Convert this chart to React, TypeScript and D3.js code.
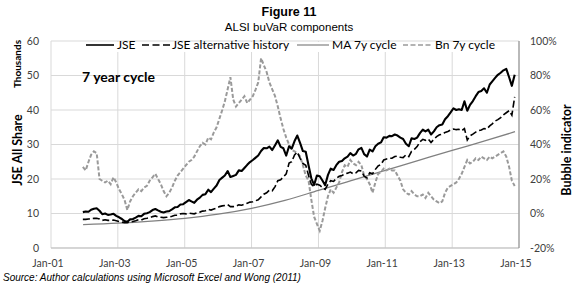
import React from "react";
import * as d3 from "d3";

// ---------- DATA ----------
const titleText = "Figure 11";
const subtitleText = "ALSI buVaR components";
const sourceText = "Source: Author calculations using Microsoft Excel and Wong (2011)";
const seriesNames = ["JSE", "JSE alternative history", "MA 7y cycle", "Bn 7y cycle"];

// monthly observations, Dec-2001 .. Nov-2014
const firstMonth = [2001, 11]; // year, month index (Dec)

// JSE All Share (thousands)
const jse = [
  10.4,
  10.6, 10.5, 11.1, 11.4, 11.5, 10.8, 9.8, 10.0, 9.6, 9.7, 9.9, 9.3,
  8.9, 8.4, 7.8, 7.6, 8.3, 8.4, 8.8, 9.3, 9.2, 9.9, 10.1, 10.4,
  11.0, 11.3, 10.9, 10.5, 10.3, 10.6, 10.7, 11.2, 11.8, 11.9, 12.6, 12.7,
  13.3, 13.9, 13.5, 13.1, 14.0, 14.6, 15.4, 15.6, 16.9, 16.2, 17.2, 18.1,
  19.7, 20.4, 21.0, 22.3, 20.6, 20.9, 21.2, 22.5, 22.3, 23.2, 24.1, 24.9,
  25.5, 26.2, 26.8, 28.1, 29.0, 28.9, 29.4, 28.4, 29.8, 31.2, 29.3, 28.9,
  26.8, 29.5, 28.8, 31.0, 32.6, 30.4, 28.1, 27.9, 23.9, 20.2, 18.3, 21.0,
  20.8, 19.5, 18.2, 21.2, 23.0, 22.6, 24.0, 25.0, 25.2, 26.0, 26.5, 27.5,
  26.8, 27.3, 28.6, 29.0, 27.2, 26.5, 28.5, 28.0, 29.5, 30.2, 30.6, 32.1,
  32.0, 32.5, 32.4, 32.9, 32.6, 32.0, 31.6, 30.2, 29.5, 31.8, 31.6, 32.0,
  33.3, 34.3, 33.8, 34.3, 32.9, 33.8, 35.0, 35.6, 35.8, 37.3, 38.2, 39.3,
  40.5, 40.0, 40.2, 40.0, 42.5, 39.8, 41.5, 42.6, 44.0, 45.2, 45.5, 46.3,
  45.0, 47.4, 48.3, 49.3, 50.2, 50.8, 51.5, 51.9, 49.5, 47.0, 50.2,
];

// JSE alternative history (thousands)
const jseAlt = [
  8.3,
  8.3, 8.4, 8.5, 8.6, 8.6, 8.4, 8.0, 8.2, 8.0, 8.0, 8.1, 7.9,
  7.7, 7.5, 7.3, 7.3, 7.6, 7.7, 7.9, 8.2, 8.1, 8.5, 8.6, 8.8,
  9.1, 9.3, 9.0, 8.9, 8.8, 8.9, 9.0, 9.2, 9.5, 9.5, 9.9, 10.0,
  9.9, 10.1, 10.0, 9.9, 10.2, 10.4, 10.7, 10.8, 11.2, 11.0, 11.3, 11.6,
  12.0, 12.2, 12.3, 12.6, 12.0, 12.0, 12.1, 12.5, 12.4, 12.7, 13.0, 13.3,
  13.4, 13.7, 14.0, 14.8, 15.6, 16.0, 16.8, 16.6, 17.8, 19.5, 19.8, 20.6,
  21.5, 24.6, 25.0, 27.0, 27.8, 26.0, 24.5, 24.0, 21.0, 18.5, 17.8, 18.5,
  18.2, 17.5, 17.0, 18.5, 19.5, 19.3, 20.2, 20.8, 21.0, 21.5, 21.7, 22.0,
  21.5, 21.8, 22.5, 22.3, 20.8, 20.3, 21.8, 21.5, 22.8, 23.8, 24.2, 25.5,
  25.8, 26.0, 26.0, 26.5, 26.6, 26.3, 26.2, 27.0, 26.5, 28.0, 28.6, 29.4,
  30.8, 31.5, 31.2, 31.6, 30.6, 31.5, 32.3, 32.8, 33.0, 33.5, 33.8, 34.2,
  34.5, 34.3, 34.4, 34.0, 34.6, 31.3, 32.5, 33.0, 33.6, 34.0, 34.2, 34.6,
  34.5, 35.4, 36.0, 36.8, 37.2, 37.8, 38.6, 39.2, 39.8, 38.5, 43.8,
];

// Bn 7y cycle (bubble indicator, %)
const bn = [
  27,
  25, 30, 34, 36, 35, 20, 19, 18, 19, 17, 21, 18,
  14, 11, 8, 2, 7, 10, 12, 14, 13, 15, 16, 19,
  21, 23, 20, 17, 13, 10, 12, 15, 19, 22, 24, 26,
  28, 30, 31, 33, 36, 39, 41, 40, 44, 43, 47, 50,
  55, 60, 65, 72, 79, 66, 62, 64, 66, 68, 64, 66,
  68, 72, 76, 90, 86, 82, 76, 72, 68, 62, 55, 49,
  44, 40, 37, 36, 35, 33, 28, 22, 19, 8, -2, -6,
  -10, -4, 3, 10, 14, 12, 15, 18, 24, 28, 27, 31,
  29, 28, 30, 28, 22, 20, 17, 12, 18, 23, 24, 26,
  25, 26, 25, 25, 22, 19, 14, 12, 11, 13, 11, 10,
  10, 11, 9, 12, 10, 8, 7, 6, 7, 12, 15, 16,
  17, 18, 20, 23, 27, 31, 29, 30, 32, 31, 33, 32,
  31, 33, 32, 33, 34, 35, 36, 33, 27, 19, 16,
];

// MA 7y cycle (thousands), smooth trend
const maYears = [2001.96, 2003, 2004, 2005, 2006, 2007, 2008, 2009, 2010, 2011, 2012, 2013, 2014, 2014.88];
const maValues = [6.8, 7.2, 7.8, 8.6, 9.8, 11.5, 13.8, 16.7, 19.6, 22.5, 25.4, 28.3, 31.1, 33.7];

const xTickYears = [2001, 2003, 2005, 2007, 2009, 2011, 2013, 2015];
const xTickLabels = ["Jan-01", "Jan-03", "Jan-05", "Jan-07", "Jan-09", "Jan-11", "Jan-13", "Jan-15"];
const leftTicks = [0, 10, 20, 30, 40, 50, 60];
const rightTicks = [-20, 0, 20, 40, 60, 80, 100];

// ---------- CHART ----------
const W = 580;
const H = 284;
const PL = 51, PR = 519, PT = 41, PB = 248;

const calibri = "Lato, 'Open Sans', sans-serif";
const arial = "'Liberation Sans', Arial, sans-serif";

function yearToDate(y: number) {
  const yr = Math.floor(y);
  const frac = y - yr;
  const start = new Date(yr, 0, 1).getTime();
  const end = new Date(yr + 1, 0, 1).getTime();
  return new Date(start + frac * (end - start));
}

export default function App() {
  const x = d3.scaleTime().domain([new Date(2001, 0, 1), new Date(2015, 0, 1)]).range([PL, PR]);
  const yL = d3.scaleLinear().domain([0, 60]).range([PB, PT]);
  const yR = d3.scaleLinear().domain([-20, 100]).range([PB, PT]);

  const monthDate = (i: number) => new Date(firstMonth[0], firstMonth[1] + i, 15);

  const lineL = d3.line<number>().x((_, i) => x(monthDate(i))).y((v) => yL(v));
  const lineR = d3.line<number>().x((_, i) => x(monthDate(i))).y((v) => yR(v));
  const maLine = d3
    .line<number>()
    .x((_, i) => x(yearToDate(maYears[i])))
    .y((v) => yL(v))
    .curve(d3.curveMonotoneX);

  const legendY = 45;

  return (
    <svg width={W} height={H} style={{ position: "absolute", left: 0, top: 0, background: "#fff" }}>
      <rect x={0} y={0} width={W} height={H} fill="#fff" />
      {/* titles */}
      <text x={289} y={16} textAnchor="middle" fontFamily={arial} fontWeight="bold" fontSize={12.5} fill="#000">
        {titleText}
      </text>
      <text x={289} y={31} textAnchor="middle" fontFamily={arial} fontSize={11.5} fill="#000">
        {subtitleText}
      </text>

      {/* gridlines */}
      {leftTicks.map((t) => (
        <line key={"h" + t} x1={PL} x2={PR} y1={yL(t)} y2={yL(t)} stroke="#d9d9d9" strokeWidth={1} />
      ))}
      {xTickYears.map((yv) => (
        <line
          key={"v" + yv}
          x1={x(new Date(yv, 0, 1))}
          x2={x(new Date(yv, 0, 1))}
          y1={PT}
          y2={PB}
          stroke="#d9d9d9"
          strokeWidth={1}
        />
      ))}
      <line x1={PL} x2={PR} y1={PB} y2={PB} stroke="#bfbfbf" strokeWidth={1} />
      <line x1={PR} x2={PR} y1={PT} y2={PB} stroke="#868686" strokeWidth={1} />

      {/* left ticks */}
      {leftTicks.map((t) => (
        <text key={"lt" + t} x={39} y={yL(t)} dy="0.35em" textAnchor="end" fontFamily={calibri} fontSize={10.5} fill="#404040">
          {t}
        </text>
      ))}
      {/* right ticks */}
      {rightTicks.map((t) => (
        <text key={"rt" + t} x={530} y={yR(t)} dy="0.35em" textAnchor="start" fontFamily={calibri} fontSize={10.5} fill="#404040">
          {t + "%"}
        </text>
      ))}
      {/* x ticks */}
      {xTickYears.map((yv, i) => (
        <text key={"xt" + yv} x={x(new Date(yv, 0, 1)) - 3} y={267} textAnchor="middle" fontFamily={calibri} fontSize={10.5} fill="#404040">
          {xTickLabels[i]}
        </text>
      ))}

      {/* axis titles */}
      <text transform="translate(21,64) rotate(-90)" textAnchor="middle" fontFamily={calibri} fontWeight="bold" fontSize={10} fill="#000">
        Thousands
      </text>
      <text transform="translate(22,150) rotate(-90)" textAnchor="middle" fontFamily={calibri} fontWeight="bold" fontSize={12.5} fill="#000">
        JSE All Share
      </text>
      <text transform="translate(571,150) rotate(-90)" textAnchor="middle" fontFamily={calibri} fontWeight="bold" fontSize={12.5} fill="#000">
        Bubble indicator
      </text>

      {/* series */}
      <path d={maLine(maValues) || ""} fill="none" stroke="#808080" strokeWidth={1.3} />
      <path d={lineR(bn) || ""} fill="none" stroke="#9a9a9a" strokeWidth={2} strokeDasharray="4,2" />
      <path d={lineL(jseAlt) || ""} fill="none" stroke="#000" strokeWidth={1.6} strokeDasharray="7,3" />
      <path d={lineL(jse) || ""} fill="none" stroke="#000" strokeWidth={2.1} strokeLinejoin="round" />

      {/* in-chart label */}
      <text x={82} y={82} fontFamily={calibri} fontWeight="bold" fontSize={14} fill="#000">
        7 year cycle
      </text>

      {/* legend */}
      <rect x={84} y={42} width={414} height={10} fill="#fff" />
      <line x1={86} x2={114} y1={legendY} y2={legendY} stroke="#000" strokeWidth={1.6} />
      <text x={117} y={legendY} dy="0.35em" fontFamily={calibri} fontSize={12} fill="#000">{seriesNames[0]}</text>
      <line x1={142} x2={170} y1={legendY} y2={legendY} stroke="#000" strokeWidth={1.4} strokeDasharray="7,3.5" />
      <text x={172} y={legendY} dy="0.35em" fontFamily={calibri} fontSize={12} fill="#000">{seriesNames[1]}</text>
      <line x1={297} x2={329} y1={legendY} y2={legendY} stroke="#808080" strokeWidth={1.2} />
      <text x={332} y={legendY} dy="0.35em" fontFamily={calibri} fontSize={12} fill="#000">{seriesNames[2]}</text>
      <line x1={403} x2={432} y1={legendY} y2={legendY} stroke="#9a9a9a" strokeWidth={1.4} strokeDasharray="5,2.5" />
      <text x={435} y={legendY} dy="0.35em" fontFamily={calibri} fontSize={12} fill="#000">{seriesNames[3]}</text>

      {/* source */}
      <text x={3} y={281} fontFamily={arial} fontStyle="italic" fontSize={10} fill="#000">
        {sourceText}
      </text>
    </svg>
  );
}
